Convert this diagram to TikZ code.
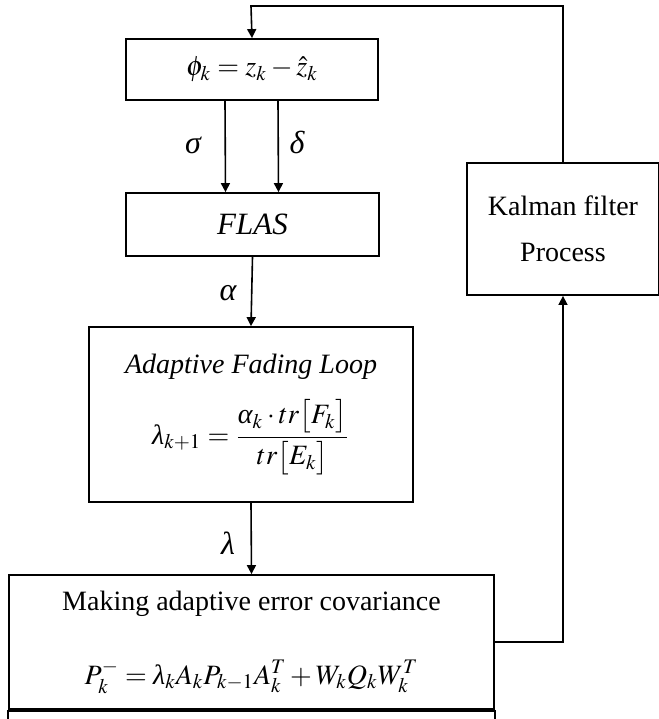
\documentclass[tikz,border=0pt]{standalone}
\usepackage{mathptmx}
\usepackage{fontspec}
\setmainfont{Liberation Serif}
\usetikzlibrary{arrows.meta}

% italic greek from the text font
\newcommand{\glam}{\mbox{\itshape λ}}
\newcommand{\galp}{\mbox{\itshape α}}

\tikzset{
  blk/.style={draw, line width=0.9pt, inner sep=0pt, align=center, font=\fontsize{14}{17}\selectfont},
  flow/.style={line width=0.8pt, -{Triangle[length=4.5pt,width=4.5pt]}},
  sym/.style={font=\fontsize{16}{19}\selectfont\itshape}
}

\begin{document}
\begin{tikzpicture}[x=0.5pt,y=-0.5pt]
\useasboundingbox (0,0) rectangle (659,719);

% blocks of the fading loop
\node[blk, minimum width=126pt, minimum height=30.5pt] (res) at (252,69.5) {$\phi_k = z_k - \hat{z}_k$};
\node[blk, minimum width=126.5pt, minimum height=31.5pt, font=\fontsize{15.5}{18}\selectfont] (flas) at (252.5,224.5) {\textit{FLAS}};
\node[blk, minimum width=162pt, minimum height=87.5pt] (fade) at (251,414.5)
  {\textit{Adaptive Fading Loop}\\[9pt]
   $\displaystyle \glam_{k+1} = \frac{\galp_k \cdot tr\bigl[F_k\bigr]}{tr\bigl[E_k\bigr]}$};
\node[blk, minimum width=242.5pt, minimum height=67pt] (cov) at (251.5,642)
  {Making adaptive error covariance\\[20pt]
   $P_k^- = \glam_k A_k P_{k-1} A_k^T + W_k Q_k W_k^T$};
\node[blk, minimum width=96pt, minimum height=66pt] (kf) at (563,229) {Kalman filter\\[6pt]Process};

% next block, cut off at the bottom
\draw[line width=1.6pt] (cov.south west) -- (cov.south east);
\draw[line width=0.9pt] (cov.south west) -- ++(0,20);
\draw[line width=0.9pt] (cov.south east) -- ++(0,20);

% inputs and outputs
\draw[flow] ([xshift=-13.5pt]res.south) -- ([xshift=-13.5pt]flas.north);
\draw[flow] ([xshift=13pt]res.south) -- ([xshift=13pt]flas.north);
\draw[flow] (flas.south) -- (fade.north);
\draw[flow] (fade.south) -- (cov.north);

\node[sym] (sig) at (193,145) {σ};
\node[sym] (del) at (297,142) {δ};
\node[sym] (alp) at (228,293) {α};
\node[sym] (lam) at (228,543) {λ};

% feedback through the filter
\draw[flow] (cov.east) -| (kf.south);
\draw[flow] (kf.north) |- (251,6) -- (res.north);
\end{tikzpicture}
\end{document}
